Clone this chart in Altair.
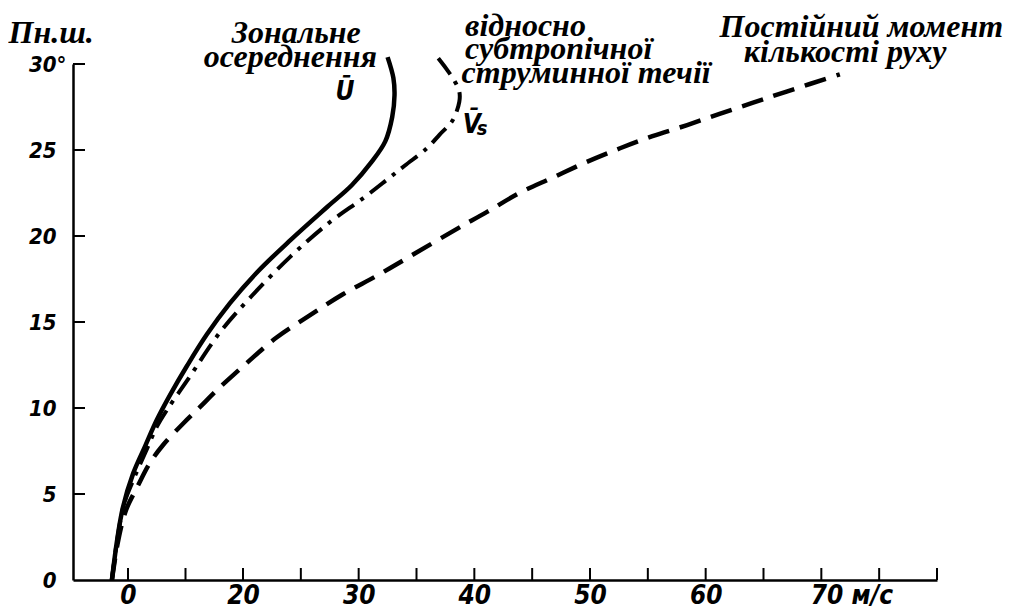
import altair as alt
import pandas as pd

# --- curve values (x in m/s, y in degrees N) ---
u_x = [-2.8, -1.9, -0.9, 0.9, 3.0, 5.0, 7.3, 10.3, 13.7, 17.7, 21.2, 24.1, 27.3, 29.4, 31.1, 32.3, 32.9, 33.1, 33.0, 32.5]
u_y = [0, 2.3, 4.2, 6.2, 7.8, 9.3, 10.75, 12.47, 14.27, 16.08, 17.88, 19.76, 21.7, 22.95, 24.29, 25.5, 26.92, 28.2, 29.19, 30.4]

vs_x = [-2.8, -1.9, -0.7, 0.9, 3.0, 5.0, 6.8, 10.3, 16.0, 20.6, 24.1, 27.5, 30.4, 32.5, 34.0, 35.9, 37.0, 38.1, 38.7, 38.7, 38.3, 37.6, 36.8]
vs_y = [0, 2.3, 4.4, 5.8, 7.4, 8.9, 9.9, 11.6, 14.4, 16.4, 18.8, 20.8, 22.2, 23.3, 24.1, 25.1, 25.9, 26.7, 27.8, 28.4, 29.0, 29.7, 30.4]

am_x = [-2.8, -1.7, -0.3, 1.6, 3.8, 6.1, 9.6, 12.5, 15.5, 20.3, 22.9, 25.8, 28.6, 31.6, 34.4, 38.2, 41.1, 43.9, 46.8, 49.7, 52.6, 55.4, 58.4, 61.2, 64.1, 67.0, 71.6]
am_y = [0, 2.3, 4.1, 5.4, 6.8, 7.85, 9.1, 10.05, 11.05, 12.6, 14.1, 15.4, 16.6, 17.7, 18.8, 20.3, 21.4, 22.5, 23.4, 24.3, 25.1, 25.8, 26.45, 27.1, 27.75, 28.4, 29.4]

# --- axis ticks ---
x_ticks = [0, 10, 20, 25, 30, 35, 40, 45, 50, 55, 60, 65, 70, 75, 80]
y_ticks = [5, 10, 15, 20, 25, 30]
y_labels = [0, 5, 10, 15, 20, 25, 30]

# --- annotations (text, x, y) ---
left_text = ["відносно", "субтропічної", "струминної течії", "Постійний момент", "кількості  руху"]
left_x = [39.2, 39.2, 38.9, 61.2, 63.3]
left_y = [31.6, 30.29, 28.9, 31.55, 30.12]

center_text = ["Зональне", "осереднення"]
center_x = [24.6, 24.1]
center_y = [31.2, 29.8]

sym_text = ["Ū", "V̄"]
sym_x = [28.0, 39.0]
sym_y = [27.9, 26.0]
sub_text = ["s"]
sub_x = [40.2]
sub_y = [25.85]

W, H = 864, 516
SERIF = "Liberation Serif"
SANS = "Liberation Sans Narrow, DejaVu Sans Condensed, sans-serif"

curves = pd.concat([
    pd.DataFrame({"x": u_x, "y": u_y, "s": "U", "i": range(len(u_x))}),
    pd.DataFrame({"x": vs_x, "y": vs_y, "s": "Vs", "i": range(len(vs_x))}),
    pd.DataFrame({"x": am_x, "y": am_y, "s": "AM", "i": range(len(am_x))}),
])

xscale = alt.Scale(domain=[-9.57, 0, 20, 80], range=[0, 55, 170, W])
yscale = alt.Scale(domain=[0, 30])

xaxis = alt.Axis(
    values=x_ticks, ticks=False, grid=False, title=None, format="d",
    labelExpr="indexof([0,20,30,40,50,60], datum.value) >= 0 ? datum.label : (datum.value == 70 ? '70 м/с' : '')",
    labelAlign={"condition": {"test": "datum.value == 70", "value": "left"}, "value": "center"},
    labelOffset={"condition": {"test": "datum.value == 70", "value": -11}, "value": 0},
    labelBaseline="alphabetic", labelPadding=23,
    labelFont=SANS, labelFontSize=26, labelFontStyle="italic", labelFontWeight="bold",
    labelColor="black", domainColor="black", domainWidth=2.5, labelFlush=False,
    labelOverlap=False,
)
yaxis = alt.Axis(
    values=y_labels, ticks=False, grid=False, format="d",
    title="Пн.ш.", titleAngle=0, titleAlign="left", titleBaseline="alphabetic",
    titleX=-65, titleY=-22, titleFont=SERIF, titleFontSize=32, titleFontStyle="italic",
    titleFontWeight="bold", titleColor="black",
    labelExpr="datum.value == 30 ? '30°' : datum.label",
    labelPadding={"condition": {"test": "datum.value == 30", "value": 7}, "value": 17},
    labelFont=SANS, labelFontSize=22, labelFontStyle="italic", labelFontWeight="bold",
    labelColor="black", domainColor="black", domainWidth=2.5, labelOverlap=False,
)

X = alt.X("x:Q", scale=xscale, axis=xaxis)
Y = alt.Y("y:Q", scale=yscale, axis=yaxis)

def curve(name, dash, width):
    kw = dict(color="black", strokeWidth=width, interpolate="catmull-rom", strokeCap="butt")
    if dash:
        kw["strokeDash"] = dash
    return alt.Chart(curves).transform_filter(alt.datum.s == name).mark_line(**kw).encode(
        x=X, y=Y, order="i:Q")

solid = curve("U", None, 4.5)
dashdot = curve("Vs", [20, 8, 4, 8], 4)
dashed = curve("AM", [22, 11], 4.5)

xt = alt.Chart(pd.DataFrame({"x": x_ticks})).mark_rule(color="black", strokeWidth=2).encode(
    x=X, y=alt.value(H), y2=alt.value(H - 12))
yt = alt.Chart(pd.DataFrame({"y": y_ticks})).mark_rule(color="black", strokeWidth=2).encode(
    y=Y, x=alt.value(0), x2=alt.value(12))

def texts(xs, ys, ts, align, font, size):
    return alt.Chart(pd.DataFrame({"x": xs, "y": ys, "t": ts})).mark_text(
        align=align, baseline="alphabetic", font=font, fontSize=size, fontStyle="italic",
        fontWeight="bold", color="black").encode(x=X, y=Y, text="t:N")

t_left = texts(left_x, left_y, left_text, "left", SERIF, 32)
t_center = texts(center_x, center_y, center_text, "center", SERIF, 32)
t_sym = texts(sym_x, sym_y, sym_text, "left", SANS, 26)
t_sub = texts(sub_x, sub_y, sub_text, "left", SANS, 20)

chart = alt.layer(solid, dashdot, dashed, xt, yt, t_left, t_center, t_sym, t_sub).properties(
    width=W, height=H,
    autosize=alt.AutoSizeParams(type="none"),
    padding={"left": 65, "top": 56, "right": 74, "bottom": 30},
    background="white",
).configure_view(stroke=None)

chart.save("out.html", embed_options={"renderer": "svg", "actions": False})
